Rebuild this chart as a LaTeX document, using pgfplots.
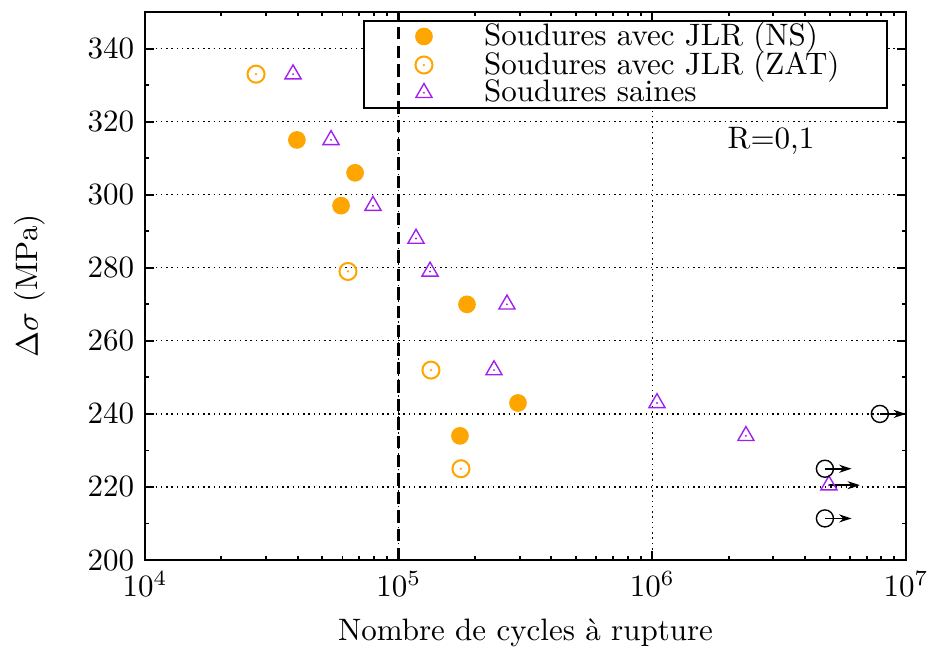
\documentclass[border=0pt]{standalone}
\usepackage{pgfplots}
\pgfplotsset{compat=1.18}
\usetikzlibrary{arrows.meta}
\definecolor{gorange}{RGB}{255,165,0}
\definecolor{gviolet}{RGB}{160,32,240}
\pgfdeclareplotmark{odot}{%
  \pgfpathcircle{\pgfpointorigin}{\pgfplotmarksize}\pgfusepathqstroke
  \pgfpathcircle{\pgfpointorigin}{0.4pt}\pgfusepathqfill}
\pgfdeclareplotmark{tridot}{%
  \pgfpathmoveto{\pgfpointpolar{90}{\pgfplotmarksize}}%
  \pgfpathlineto{\pgfpointpolar{-30}{\pgfplotmarksize}}%
  \pgfpathlineto{\pgfpointpolar{210}{\pgfplotmarksize}}%
  \pgfpathclose\pgfusepathqstroke
  \pgfpathcircle{\pgfpointorigin}{0.35pt}\pgfusepathqfill}
\begin{document}
\begin{tikzpicture}
\begin{axis}[
  set layers,
  scale only axis, width=245.5pt, height=176.8pt,
  xmode=log, xmin=1e4, xmax=1e7, ymin=200, ymax=350,
  ytick={200,220,...,340}, minor ytick={210,230,...,330},
  grid=major,
  major grid style={black, line width=0.4pt, dash pattern=on 0.5pt off 1.2pt},
  tick align=inside, major tick length=2.8pt, minor tick length=1.4pt,
  every tick/.style={black, line width=0.6pt},
  axis line style={line width=0.6pt},
  xlabel={Nombre de cycles à rupture},
  ylabel={$\Delta\sigma$ (MPa)},
  ylabel style={at={(axis description cs:-0.151,0.5)}, anchor=center},
  xlabel style={at={(axis description cs:0.5,-0.133)}, anchor=center},
  clip=false,
  legend cell align=left,
  legend image code/.code={%
    \path[draw=none, fill=none] (0pt,-3pt) (38.8pt,3pt);
    \draw[mark repeat=2,mark phase=2,#1] plot coordinates {(0pt,0pt) (19.4pt,0pt) (38.8pt,0pt)};},
  legend style={at={(rel axis cs:0.9763,0.9854)}, anchor=north east,
    draw=black, line width=0.6pt, fill=white, inner xsep=0pt, inner ysep=0.5pt,
    row sep=0.2pt,
    nodes={inner sep=0pt, text width=130pt, align=left},
    /tikz/every odd column/.append style={column sep=0pt}},
]
\addplot[only marks, mark=*, mark size=2.7pt, mark options={draw=gorange, fill=gorange, line width=0.3pt}]
  coordinates {(39700,315) (67300,306) (59250,297) (185900,270) (295300,243) (174400,234)};
\addlegendentry{Soudures avec JLR (NS)}
\addplot[only marks, mark=odot, mark size=2.75pt, mark options={draw=gorange, fill=gorange, line width=0.65pt}]
  coordinates {(27390,333) (63100,279) (134000,252) (176000,225)};
\addlegendentry{Soudures avec JLR (ZAT)}
\addplot[only marks, mark=tridot, mark size=3pt, mark options={draw=gviolet, fill=gviolet, line width=0.45pt}]
  coordinates {(38320,333) (54100,315) (79200,297) (117000,288) (132900,279) (267200,270) (237500,252) (1043000,243) (2339000,234) (4967000,220.5)};
\addlegendentry{Soudures saines}
\addplot[forget plot, only marks, mark=o, mark size=2.75pt, mark options={draw=black, line width=0.45pt}]
  coordinates {(7890000,240) (4790000,225) (4790000,211.4)};
\addplot[forget plot, black, line width=0.5pt, -{Stealth[length=4pt,width=2.6pt]}] coordinates {(7890000,240) (10000000,240)};
\addplot[forget plot, black, line width=0.5pt, -{Stealth[length=4pt,width=2.6pt]}] coordinates {(4790000,225) (6100000,225)};
\addplot[forget plot, black, line width=0.5pt, -{Stealth[length=4pt,width=2.6pt]}] coordinates {(4790000,211.4) (6100000,211.4)};
\addplot[forget plot, black, line width=0.5pt, -{Stealth[length=4pt,width=2.6pt]}] coordinates {(4967000,220.5) (6580000,220.5)};
\addplot[forget plot, on layer=axis foreground, black, line width=0.8pt, dash pattern=on 4pt off 2pt] coordinates {(100000,200) (100000,350)};
\node[anchor=center] at (rel axis cs:0.8226,0.7646) {R=0,1};
\end{axis}
\pgfresetboundingbox
\path (current axis.south west) ++(-46.8pt,-29.4pt) coordinate (bbA);
\path (current axis.north east) ++(7.1pt,3.9pt) coordinate (bbB);
\useasboundingbox (bbA) rectangle (bbB);
\end{tikzpicture}
\end{document}
